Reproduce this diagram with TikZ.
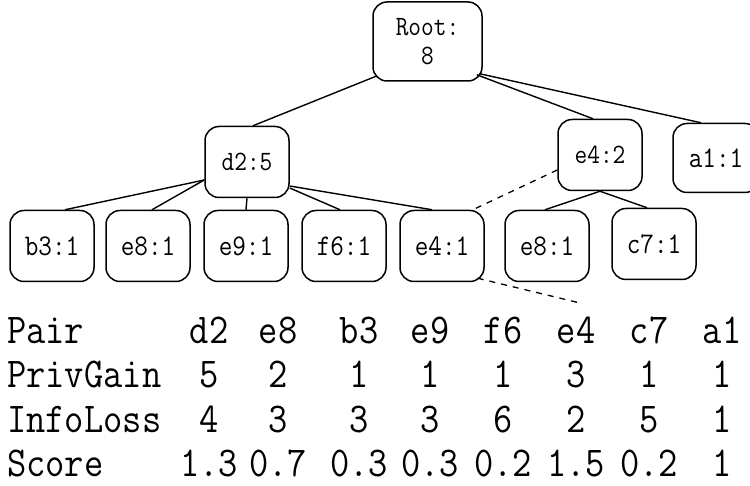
\documentclass[tikz,border=0pt]{standalone}
\usepackage{fontspec}
% narrow, tall serif monospace used for every label
\newfontfamily\narrowmono[FakeStretch=0.88]{Latin Modern Mono}
\begin{document}
\begin{tikzpicture}[x=1pt,y=-1pt,
  box/.style={draw, line width=1.5pt, rounded corners=14pt, inner sep=0pt,
    minimum width=84pt, minimum height=71pt, align=center},
  leaftxt/.style={font=\narrowmono\fontsize{30}{30}\selectfont},
  inner/.style={font=\narrowmono\fontsize{28}{30}\selectfont},
  edge/.style={line width=1.4pt},
  dashedge/.style={line width=1.3pt, dash pattern=on 6pt off 6pt},
  cell/.style={font=\narrowmono\fontsize{42.5}{44}\selectfont, anchor=base, inner sep=0pt},
  rowlab/.style={cell, anchor=base west}]
\useasboundingbox (0,0) rectangle (750,486);
\clip (0,0) rectangle (750,486);

% tree nodes
\node[box, inner, minimum width=109pt, minimum height=79pt] (root) at (427.5,41.5) {Root:\\[-1pt]8};
\node[box, inner] (d2) at (247,162) {d2:5};
\node[box, inner] (e4b) at (600,155) {e4:2};
\node[box, leaftxt, minimum width=86pt, minimum height=69pt] (a1) at (716,158) {a1:1};
\node[box, leaftxt] (b3) at (52,246) {b3:1};
\node[box, leaftxt] (e8a) at (148,246) {e8:1};
\node[box, leaftxt] (e9) at (246,246) {e9:1};
\node[box, leaftxt] (f6) at (344,246) {f6:1};
\node[box, leaftxt] (e4a) at (442,246) {e4:1};
\node[box, leaftxt] (e8b) at (547,246) {e8:1};
\node[box, leaftxt] (c7) at (654,244) {c7:1};

% tree edges
\draw[edge] ([shift={(5pt,6pt)}]root.south west) -- ([xshift=6pt]d2.north);
\draw[edge] ([shift={(-6pt,7pt)}]root.south east) -- ([xshift=-7pt]e4b.north);
\draw[edge] ([shift={(-3pt,8pt)}]root.south east) -- ([xshift=-15pt]a1.north);
\draw[edge] ([yshift=-18pt]d2.west) -- ([xshift=13pt]b3.north);
\draw[edge] ([yshift=-18pt]d2.west) -- ([xshift=4pt]e8a.north);
\draw[edge] (d2.south) -- (e9.north);
\draw[edge] ([yshift=-26pt]d2.east) -- ([xshift=-4pt]f6.north);
\draw[edge] ([yshift=-24pt]d2.east) -- ([xshift=-10pt]e4a.north);
\draw[edge] (e4b.south) -- ([xshift=-2pt]e8b.north);
\draw[edge] (e4b.south) -- ([xshift=-7pt]c7.north);

% dashed links
\coordinate (tail) at (580,303);
\draw[dashedge] ([yshift=-15pt]e4b.west) -- ([xshift=-12pt]e4a.north east);
\draw[dashedge] ([shift={(-7pt,4pt)}]e4a.south east) -- (tail);

% score table
\node[rowlab] (hPair) at (7,344) {Pair};
\node[rowlab] (hPriv) at (7,388) {PrivGain};
\node[rowlab] (hInfo) at (7,432) {InfoLoss};
\node[rowlab] (hScore) at (7,476) {Score};

\foreach \x/\p/\g/\l/\s [count=\i] in
  {209/d2/5/4/1.3, 278/e8/2/3/0.7, 359/b3/1/3/0.3, 430/e9/1/3/0.3,
   503/f6/1/6/0.2, 576/e4/3/2/1.5, 649/c7/1/5/0.2, 722/a1/1/1/1} {
  \node[cell] (p\i) at (\x,344) {\p};
  \node[cell] (g\i) at (\x,388) {\g};
  \node[cell] (l\i) at (\x,432) {\l};
  \node[cell] (s\i) at (\x,476) {\s};
}
\end{tikzpicture}
\end{document}
